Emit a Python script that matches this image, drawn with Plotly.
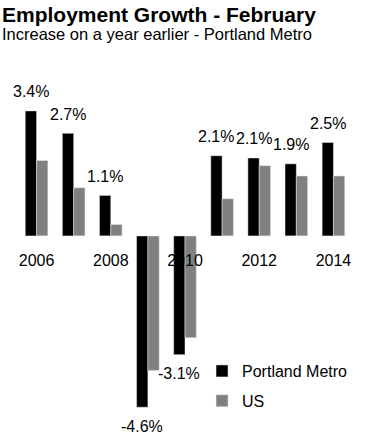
import plotly.graph_objects as go

years = [2006, 2007, 2008, 2009, 2010, 2011, 2012, 2013, 2014]
portland = [3.40, 2.79, 1.10, -4.66, -3.23, 2.18, 2.12, 1.96, 2.54]
us = [2.05, 1.31, 0.31, -3.66, -2.77, 1.01, 1.91, 1.63, 1.63]
labels = ["3.4%", "2.7%", "1.1%", "-4.6%", "-3.1%", "2.1%", "2.1%", "1.9%", "2.5%"]
tick_years = [2006, 2008, 2010, 2012, 2014]

FONT = "Liberation Sans, Arial, sans-serif"
BARGAP = 0.39
YMIN, YMAX = -5.28, 4.24

fig = go.Figure()
fig.add_trace(go.Bar(x=years, y=portland, name="Portland Metro", marker_color="#000000",
                     legendgroup="a"))
fig.add_trace(go.Bar(x=years, y=us, name="US", marker_color="#808080", legendgroup="b"))

off = (1 - BARGAP) / 4
annotations = []
for yr, v, lab in zip(years, portland, labels):
    annotations.append(dict(x=yr - off, y=v, xref="x", yref="y", text=lab, showarrow=False,
                            yshift=19 if v >= 0 else -19, font=dict(family=FONT, size=16, color="#000")))

annotations.append(dict(x=-0.054, y=1.226, xref="paper", yref="paper", xanchor="left", yanchor="top",
                        text="<b>Employment Growth - February</b>", showarrow=False,
                        font=dict(family=FONT, size=21, color="#000")))
annotations.append(dict(x=-0.054, y=1.163, xref="paper", yref="paper", xanchor="left", yanchor="top",
                        text="Increase on a year earlier - Portland Metro", showarrow=False,
                        font=dict(family=FONT, size=16.5, color="#000")))

fig.update_layout(
    width=369, height=444,
    margin=dict(l=18, r=17, t=80, b=14),
    paper_bgcolor="white", plot_bgcolor="white",
    barmode="group", bargap=BARGAP, bargroupgap=0,
    font=dict(family=FONT, size=16, color="#000"),
    annotations=annotations,
    showlegend=True,
    legend=dict(x=0.551, y=0.217, xanchor="left", yanchor="top", traceorder="grouped",
                tracegroupgap=6, font=dict(family=FONT, size=16, color="#000"),
                bgcolor="rgba(0,0,0,0)"),
    xaxis=dict(range=[2005.5, 2014.5], tickvals=tick_years, ticktext=[str(t) for t in tick_years],
               anchor="free", position=(0 - YMIN) / (YMAX - YMIN), showline=False, showgrid=False,
               zeroline=False, ticks="outside", ticklen=10, tickcolor="rgba(0,0,0,0)",
               tickfont=dict(family=FONT, size=16, color="#000"), layer="above traces"),
    yaxis=dict(range=[YMIN, YMAX], visible=False, showgrid=False, zeroline=False),
)

fig.write_html("out.html", config={"displayModeBar": False},
               post_script="document.body.style.margin='0';")
